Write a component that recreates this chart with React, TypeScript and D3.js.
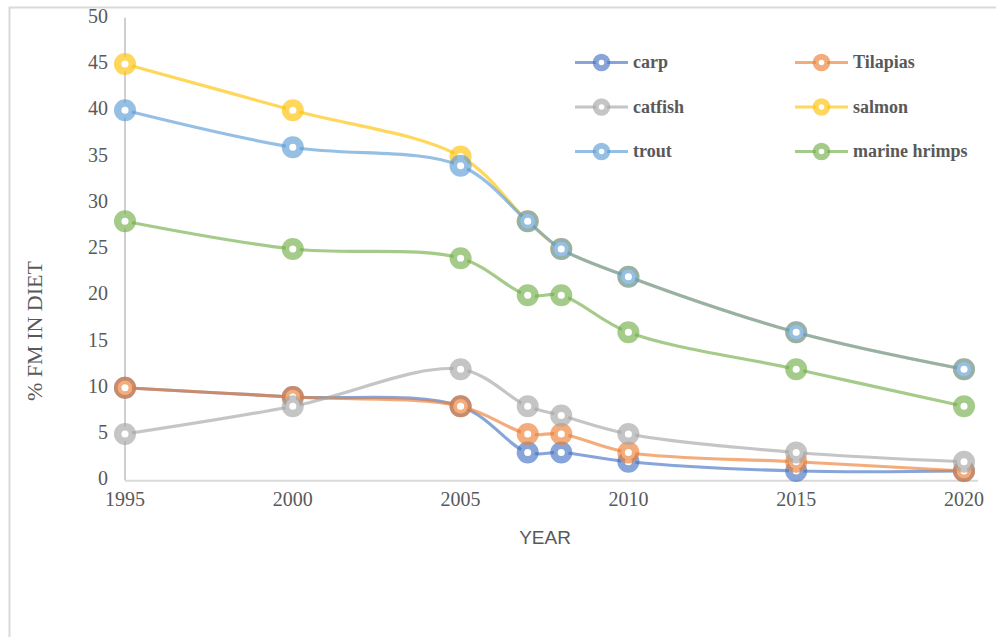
import React from "react";
import * as d3 from "d3";

const years = [1995, 2000, 2005, 2007, 2008, 2010, 2015, 2020];
const carp = [10, 9, 8, 3, 3, 2, 1, 1];
const tilapias = [10, 9, 8, 5, 5, 3, 2, 1];
const catfish = [5, 8, 12, 8, 7, 5, 3, 2];
const salmon = [45, 40, 35, 28, 25, 22, 16, 12];
const trout = [40, 36, 34, 28, 25, 22, 16, 12];
const marineShrimps = [28, 25, 24, 20, 20, 16, 12, 8];

const seriesNames = ["carp", "Tilapias", "catfish", "salmon", "trout", "marine hrimps"];
const seriesValues = [carp, tilapias, catfish, salmon, trout, marineShrimps];
const seriesColors = ["#4472C4", "#ED7D31", "#A5A5A5", "#FFC000", "#5B9BD5", "#70AD47"];

const yTicks = [0, 5, 10, 15, 20, 25, 30, 35, 40, 45, 50];
const xTicks = [1995, 2000, 2005, 2010, 2015, 2020];

const W = 996;
const H = 637;
const ALPHA = 0.64;
const TEXT = "#595959";
const SERIF = '"Liberation Serif", "DejaVu Serif", serif';
const SANS = '"Liberation Sans", "DejaVu Sans", sans-serif';

export default function App() {
  const x = d3.scaleLinear().domain([1995, 2020]).range([125, 964]);
  const y = d3.scaleLinear().domain([0, 50]).range([480.25, 17.75]);

  const line = d3
    .line<[number, number]>()
    .x((d) => x(d[0]))
    .y((d) => y(d[1]))
    .curve(d3.curveCatmullRom.alpha(0.5));

  // legend: two columns, three rows
  const legendCols = [575, 795];
  const legendRows = [62.5, 107, 151.5];

  const serif = (size: number, bold = false): React.CSSProperties => ({
    fontFamily: SERIF,
    fontSize: size,
    fontWeight: bold ? 700 : 400,
  });

  return (
    <svg
      width={W}
      height={H}
      style={{ position: "absolute", left: 0, top: 0, background: "#fff" }}
    >
      {/* outer chart frame */}
      <path d={`M9.5,${H + 2} V7.5 H${W + 2}`} fill="none" stroke="#d9d9d9" strokeWidth={2} />

      {/* axes */}
      <line x1={x(1995)} x2={x(1995)} y1={y(50)} y2={y(0)} stroke="#bfbfbf" strokeWidth={1.5} />
      <line x1={x(1995)} x2={978} y1={y(0) + 0.5} y2={y(0) + 0.5} stroke="#d9d9d9" strokeWidth={2} />

      {/* y tick labels */}
      {yTicks.map((t) => (
        <text key={"y" + t} x={108} y={y(t) + 5} textAnchor="end" fill={TEXT} style={serif(20)}>
          {t}
        </text>
      ))}

      {/* x tick labels */}
      {xTicks.map((t) => (
        <text key={"x" + t} x={x(t)} y={506} textAnchor="middle" fill={TEXT} style={serif(20)}>
          {t}
        </text>
      ))}

      {/* axis titles */}
      <text
        x={545}
        y={544}
        textAnchor="middle"
        fill={TEXT}
        style={{ fontFamily: SANS, fontSize: 19 }}
      >
        YEAR
      </text>
      <text
        transform={`translate(42,331) rotate(-90)`}
        textAnchor="middle"
        fill={TEXT}
        style={serif(22)}
      >
        % FM IN DIET
      </text>

      {/* series: smoothed line then ring markers */}
      {seriesValues.map((vals, i) => {
        const pts = years.map((yr, j) => [yr, vals[j]] as [number, number]);
        const c = seriesColors[i];
        return (
          <g key={seriesNames[i]}>
            <path d={line(pts) || ""} fill="none" stroke={c} strokeOpacity={ALPHA} strokeWidth={3.2} />
            {pts.map((p, j) => (
              <circle
                key={j}
                cx={x(p[0])}
                cy={y(p[1])}
                r={7.3}
                fill="#fff"
                stroke={c}
                strokeOpacity={ALPHA}
                strokeWidth={7.5}
              />
            ))}
          </g>
        );
      })}

      {/* legend */}
      {seriesNames.map((name, i) => {
        const lx = legendCols[i % 2];
        const ly = legendRows[Math.floor(i / 2)];
        const c = seriesColors[i];
        return (
          <g key={"lg" + name}>
            <line x1={lx} x2={lx + 53} y1={ly} y2={ly} stroke={c} strokeOpacity={ALPHA} strokeWidth={3} />
            <circle cx={lx + 26.5} cy={ly} r={5.8} fill="#fff" stroke={c} strokeOpacity={ALPHA} strokeWidth={6} />
            <text x={lx + 58} y={ly + 5.5} fill={TEXT} style={serif(18, true)}>
              {name}
            </text>
          </g>
        );
      })}
    </svg>
  );
}
